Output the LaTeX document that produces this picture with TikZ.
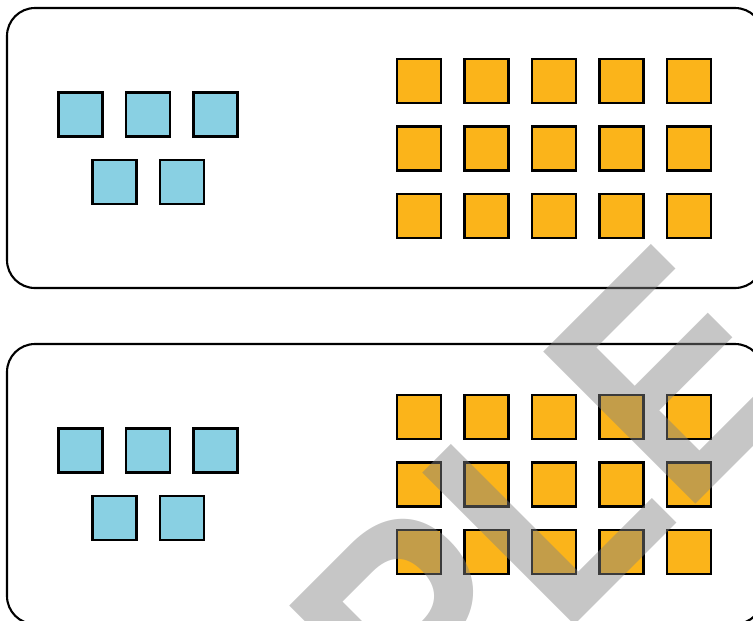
\documentclass[tikz,border=0pt]{standalone}
\usepackage{fontspec}
\setmainfont{Liberation Sans}
\usetikzlibrary{positioning}
\definecolor{TileBlue}{RGB}{137,208,227}
\definecolor{TileOrange}{RGB}{251,180,26}
\definecolor{MarkGray}{RGB}{130,130,130}
\tikzset{
  panel/.style={draw=black,line width=1.2pt,rounded corners=0.56cm},
  bluetile/.style={draw=black,fill=TileBlue,line width=1.3pt,
    minimum size=0.88cm,inner sep=0pt},
  orangetile/.style={draw=black,fill=TileOrange,line width=1.3pt,
    minimum size=0.88cm,inner sep=0pt},
  watermark/.style={text=MarkGray,text opacity=0.46,inner sep=0pt,outer sep=0pt,
    font=\bfseries\fontsize{178pt}{178pt}\selectfont,rotate=45,xscale=0.9,anchor=base east}
}

\begin{document}
\begin{tikzpicture}[x=0.02cm,y=0.02cm]
  \useasboundingbox (0,0) rectangle (753,-620);
  \clip (0,0) rectangle (753,-620);
  \foreach \p/\dy in {1/0,2/336} {
    \draw[panel] (7,-8-\dy) rectangle (763,-288-\dy);
    \foreach \i in {1,2,3}
      \node[bluetile] (blue\p top\i) at ({80.5+67.5*(\i-1)},{-114.5-\dy}) {};
    \foreach \i in {1,2}
      \node[bluetile] (blue\p low\i) at ({114.5+67.5*(\i-1)},{-182-\dy}) {};
    \foreach \r in {0,1,2}
      \foreach \c in {0,...,4}
        \node[orangetile] (orange\p r\r c\c) at ({419+67.5*\c},{-81-67.5*\r-\dy}) {};
  }
  \node[watermark] (mark) at (815.6,-384.4) {SAMPLE};
\end{tikzpicture}
\end{document}
